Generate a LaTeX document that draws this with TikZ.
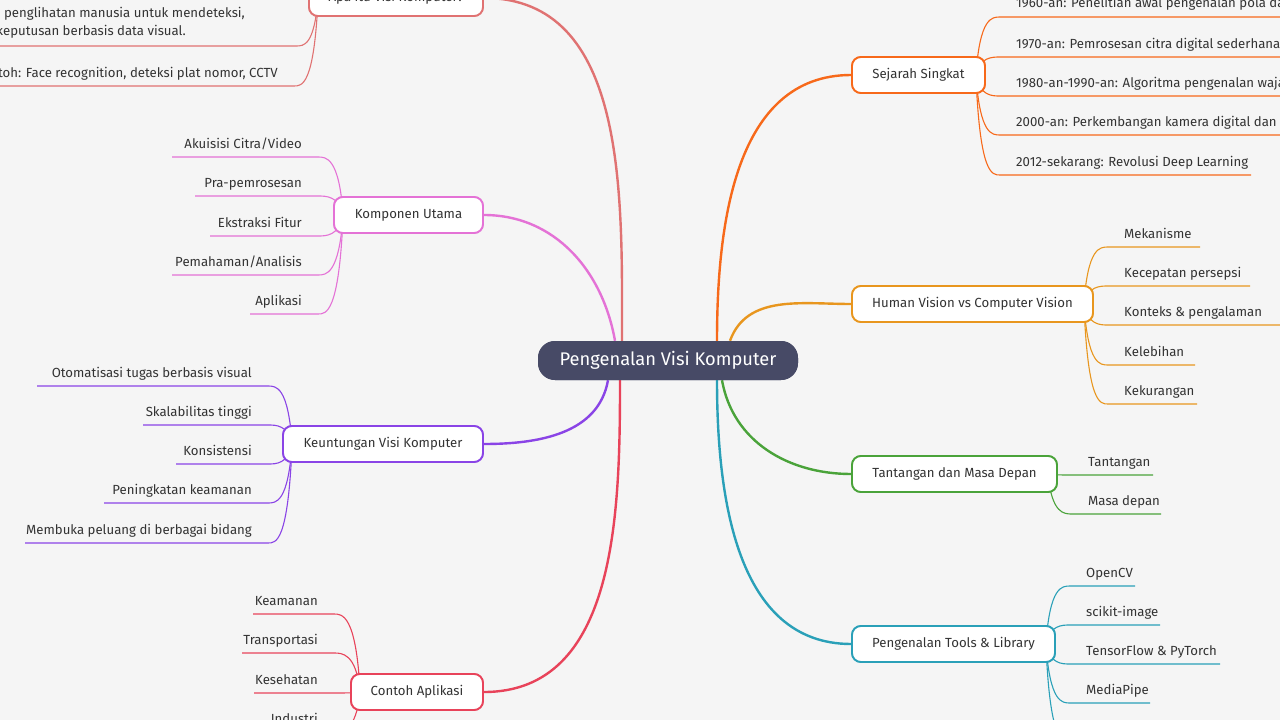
\documentclass[tikz,border=0pt]{standalone}
\usepackage{fontspec}
\setmainfont{Fira Sans}
\usetikzlibrary{calc}
\definecolor{bg}{HTML}{F5F5F5}
\definecolor{cA}{HTML}{E07272}
\definecolor{cK}{HTML}{E472D6}
\definecolor{cU}{HTML}{8A44E6}
\definecolor{cC}{HTML}{E8435A}
\definecolor{cS}{HTML}{F7691A}
\definecolor{cH}{HTML}{E8961E}
\definecolor{cT}{HTML}{4AA33A}
\definecolor{cL}{HTML}{2AA0B8}
\definecolor{ctr}{HTML}{474A66}
\definecolor{tx}{HTML}{333333}
\tikzset{
 branch/.style={draw, fill=white, rounded corners=9pt, line width=1.8pt, minimum height=36pt, inner sep=0pt, text=tx, font=\fontsize{13.2}{15}\selectfont},
 centre/.style={fill=ctr, rounded corners=17pt, minimum width=260pt, minimum height=39pt, inner sep=0pt, text=white, font=\fontsize{18.3}{20}\selectfont},
 leaf/.style={inner sep=0pt, text=tx, font=\fontsize{13.2}{15}\selectfont},
 leafline/.style={line width=1.1pt},
 mainline/.style={line width=2.4pt},
}
\newcommand\leafR[7]{%
 \coordinate (#2a) at (#5,#4); \coordinate (#2b) at (#6,#4);
 \node[leaf,anchor=base west] (#2) at (#5+16,#4-9) {#3};
 \draw[#7,leafline] let \p1=([xshift=-10pt]#1.east), \p2=(#2a) in (\p1) .. controls (\x1+4pt,\y2) and (\x2-8pt,\y2) .. (#2a) -- (#2b);}
\newcommand\leafL[7]{%
 \coordinate (#2a) at (#5,#4); \coordinate (#2b) at (#6,#4);
 \node[leaf,anchor=base east] (#2) at (#6-16,#4-9) {#3};
 \draw[#7,leafline] let \p1=([xshift=10pt]#1.west), \p2=(#2b) in (\p1) .. controls (\x1-4pt,\y2) and (\x2+8pt,\y2) .. (#2b) -- (#2a);}
\begin{document}
\begin{tikzpicture}[x=1pt,y=-1pt]
\fill[bg] (0,0) rectangle (1280,720);
\clip (0,0) rectangle (1280,720);
\useasboundingbox (0,0) rectangle (1280,720);
\node[branch,draw=cS,minimum width=133pt] (S) at (918.5,75) {Sejarah Singkat};
\node[branch,draw=cH,minimum width=241pt] (H) at (972.5,304) {Human Vision vs Computer Vision};
\node[branch,draw=cT,minimum width=205pt] (T) at (954.5,474) {Tantangan dan Masa Depan};
\node[branch,draw=cL,minimum width=203pt] (L) at (953.5,644) {Pengenalan Tools \& Library};
\node[branch,draw=cA,minimum width=174pt] (A) at (396,-2) {Apa itu Visi Komputer?};
\node[branch,draw=cK,minimum width=149pt] (K) at (408.5,215) {Komponen Utama};
\node[branch,draw=cU,minimum width=200pt] (U) at (383,444) {Keuntungan Visi Komputer};
\node[branch,draw=cC,minimum width=132pt] (C) at (417,692) {Contoh Aplikasi};
\node[centre] (M) at (668,360.5) {Pengenalan Visi Komputer};
\draw[cS,mainline] ([xshift=49pt]M.north) to[out=90,in=180] (S.west);
\draw[cH,mainline] ([xshift=62pt]M.north) to[out=70,in=180] (H.west);
\draw[cT,mainline] ([xshift=54pt]M.south) to[out=-80,in=180] (T.west);
\draw[cL,mainline] ([xshift=49pt]M.south) to[out=-90,in=180] (L.west);
\draw[cA,mainline] ([xshift=-46pt]M.north) to[out=90,in=0] (A.east);
\draw[cK,mainline] ([xshift=-53pt]M.north) to[out=100,in=0] (K.east);
\draw[cU,mainline] ([xshift=-60pt]M.south) to[out=-100,in=0] (U.east);
\draw[cC,mainline] ([xshift=-48pt]M.south) to[out=-90,in=0] (C.east);
% Sejarah
\leafR{S}{s1}{1960-an: Penelitian awal pengenalan pola dasar}{17}{1000}{1400}{cS}
\leafR{S}{s2}{1970-an: Pemrosesan citra digital sederhana}{57}{1000}{1400}{cS}
\leafR{S}{s3}{1980-an-1990-an: Algoritma pengenalan wajah}{96}{1000}{1400}{cS}
\leafR{S}{s4}{2000-an: Perkembangan kamera digital dan teknologi}{135}{1000}{1400}{cS}
\leafR{S}{s5}{2012-sekarang: Revolusi Deep Learning}{175}{1000}{1251}{cS}
% Human
\leafR{H}{h1}{Mekanisme}{247}{1108}{1200}{cH}
\leafR{H}{h2}{Kecepatan persepsi}{286}{1108}{1250}{cH}
\leafR{H}{h3}{Konteks \& pengalaman}{325}{1108}{1280}{cH}
\leafR{H}{h4}{Kelebihan}{365}{1108}{1195}{cH}
\leafR{H}{h5}{Kekurangan}{404}{1108}{1197}{cH}
% Tantangan
\leafR{T}{t1}{Tantangan}{475}{1072}{1153}{cT}
\leafR{T}{t2}{Masa depan}{514}{1072}{1161}{cT}
% Tools
\leafR{L}{l1}{OpenCV}{586}{1070}{1135}{cL}
\leafR{L}{l2}{scikit-image}{625}{1070}{1160}{cL}
\leafR{L}{l3}{TensorFlow \& PyTorch}{664}{1070}{1220}{cL}
\leafR{L}{l4}{MediaPipe}{703}{1070}{1150}{cL}
\leafR{L}{l5}{Keras}{742}{1070}{1130}{cL}
% Apa itu
\coordinate (a1a) at (-10,46); \coordinate (a1b) at (296,46);
\node[leaf,anchor=base east] (a1) at (245,17) {Bidang ilmu yang meniru kemampuan penglihatan manusia untuk mendeteksi,};
\node[leaf,anchor=base east] (a1x) at (186,35) {menganalisis, dan mengambil keputusan berbasis data visual.};
\draw[cA,leafline] let \p1=([xshift=10pt]A.west), \p2=(a1b) in (\p1) .. controls (\x1-4pt,\y2) and (\x2+8pt,\y2) .. (a1b) -- (a1a);
\leafL{A}{a2}{Contoh: Face recognition, deteksi plat nomor, CCTV}{86}{-10}{294}{cA}
% Komponen
\leafL{K}{k1}{Akuisisi Citra/Video}{157}{172}{318}{cK}
\leafL{K}{k2}{Pra-pemrosesan}{196}{195}{318}{cK}
\leafL{K}{k3}{Ekstraksi Fitur}{236}{210}{318}{cK}
\leafL{K}{k4}{Pemahaman/Analisis}{275}{172}{318}{cK}
\leafL{K}{k5}{Aplikasi}{314}{250}{318}{cK}
% Keuntungan
\leafL{U}{u1}{Otomatisasi tugas berbasis visual}{386}{37}{268}{cU}
\leafL{U}{u2}{Skalabilitas tinggi}{425}{143}{268}{cU}
\leafL{U}{u3}{Konsistensi}{464}{176}{268}{cU}
\leafL{U}{u4}{Peningkatan keamanan}{503}{104}{268}{cU}
\leafL{U}{u5}{Membuka peluang di berbagai bidang}{543}{25}{268}{cU}
% Contoh
\leafL{C}{c1}{Keamanan}{614}{253}{334}{cC}
\leafL{C}{c2}{Transportasi}{653}{242}{334}{cC}
\leafL{C}{c3}{Kesehatan}{693}{254}{334}{cC}
\leafL{C}{c4}{Industri}{732}{262}{334}{cC}
% redraw nodes on top of connectors
\node[branch,draw=cS,minimum width=133pt] at (S) {Sejarah Singkat};
\node[branch,draw=cH,minimum width=241pt] at (H) {Human Vision vs Computer Vision};
\node[branch,draw=cT,minimum width=205pt] at (T) {Tantangan dan Masa Depan};
\node[branch,draw=cL,minimum width=203pt] at (L) {Pengenalan Tools \& Library};
\node[branch,draw=cA,minimum width=174pt] at (A) {Apa itu Visi Komputer?};
\node[branch,draw=cK,minimum width=149pt] at (K) {Komponen Utama};
\node[branch,draw=cU,minimum width=200pt] at (U) {Keuntungan Visi Komputer};
\node[branch,draw=cC,minimum width=132pt] at (C) {Contoh Aplikasi};
\node[centre] at (M) {Pengenalan Visi Komputer};
\end{tikzpicture}
\end{document}
